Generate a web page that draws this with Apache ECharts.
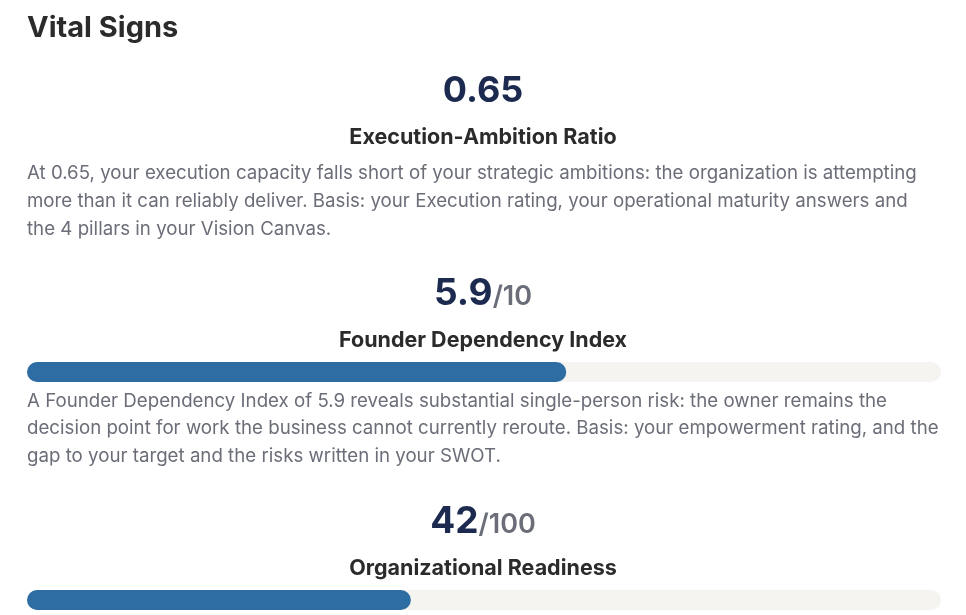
<!DOCTYPE html>
<html><head><meta charset="utf-8">
<script src="https://cdn.jsdelivr.net/npm/echarts@6/dist/echarts.min.js"></script>
<style>html,body{margin:0;background:#fff}#c{width:966px;height:615px}</style>
</head><body><div id="c"></div>
<script>
const metricNames = ["Founder Dependency Index", "Organizational Readiness"];
const metricValues = [5.9, 42];
const metricMax = [10, 100];
const ratioValue = "0.65";
const ratioName = "Execution-Ambition Ratio";
const para1 = ["At 0.65, your execution capacity falls short of your strategic ambitions: the organization is attempting",
 "more than it can reliably deliver. Basis: your Execution rating, your operational maturity answers and",
 "the 4 pillars in your Vision Canvas."];
const para2 = ["A Founder Dependency Index of 5.9 reveals substantial single-person risk: the owner remains the",
 "decision point for work the business cannot currently reroute. Basis: your empowerment rating, and the",
 "gap to your target and the risks written in your SWOT."];

const F = "Inter, 'Noto Sans', sans-serif";
const navy = "#1b2a4e", dark = "#2b2b2b", gray = "#6b6e78";
function txt(x, y, text, size, weight, color, align) {
  return {type:'text', x, y, style:{text, font:`${weight} ${size}px ${F}`, fill:color, textAlign:align||'center', textVerticalAlign:'middle'}};
}
function big(y, v, max) {
  return {type:'text', x:483, y, style:{text:`{a|${v}}{b|/${max}}`, textAlign:'center', textVerticalAlign:'middle',
    rich:{a:{font:`700 37px ${F}`, fill:navy}, b:{font:`600 27px ${F}`, fill:gray, padding:[6,0,0,0]}}}};
}
const g = [
  txt(27, 28, "Vital Signs", 29, 700, dark, 'left'),
  txt(483, 91, ratioValue, 36, 700, navy),
  txt(483, 138, ratioName, 21.5, 700, dark),
  big(294, metricValues[0], metricMax[0]),
  txt(483, 341, metricNames[0], 21.5, 700, dark),
  big(522, metricValues[1], metricMax[1]),
  txt(483, 569, metricNames[1], 21.5, 700, dark)
];
para1.forEach((l,i)=>g.push(txt(27, 173+28*i, l, 18.7, 400, gray, 'left')));
para2.forEach((l,i)=>g.push(txt(27, 401+27.5*i, l, 18.7, 400, gray, 'left')));

const grids = [362, 590].map(t=>({left:27, right:25, top:t, height:20}));
const chart = echarts.init(document.getElementById('c'));
chart.setOption({
  animation:false,
  grid: grids,
  xAxis: metricMax.map((m,i)=>({type:'value', min:0, max:m, gridIndex:i, show:false})),
  yAxis: metricNames.map((n,i)=>({type:'category', data:[n], gridIndex:i, show:false})),
  series: metricValues.map((v,i)=>({type:'bar', xAxisIndex:i, yAxisIndex:i, data:[v], barWidth:20,
    itemStyle:{color:'#2e6da4', borderRadius:10}, showBackground:true,
    backgroundStyle:{color:'#f5f4f0', borderRadius:10}})),
  graphic: g
});
</script></body></html>
